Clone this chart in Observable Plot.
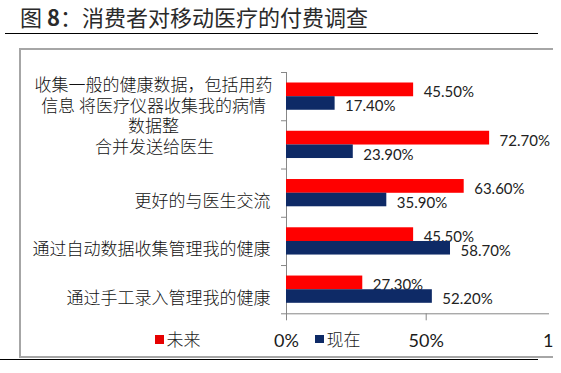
<!DOCTYPE html>
<html>
<head>
<meta charset="utf-8">
<script src="https://cdn.jsdelivr.net/npm/d3@7"></script>
<script src="https://cdn.jsdelivr.net/npm/@observablehq/plot@0.6"></script>
<style>
html, body { margin: 0; padding: 0; background: #fff; }
body { width: 561px; height: 373px; position: relative; overflow: hidden; font-family: "Noto Sans CJK SC", sans-serif; }
#title { position: absolute; left: 20px; top: 0; line-height: 33px; font-size: 22px; color: #2a2a2a; white-space: nowrap; }
#title b { font-weight: bold; }
#rule1 { position: absolute; left: 5px; top: 32.5px; width: 533px; height: 1.5px; background: #000; }
#clip { position: absolute; left: 0; top: 0; width: 553px; height: 373px; overflow: hidden; }
#box { position: absolute; left: 19px; top: 47.5px; width: 600px; height: 306px; border: 2px solid #a6a6a6; }
#rule2 { position: absolute; left: 0; top: 358.5px; width: 538px; height: 1.5px; background: #000; }
#chart { position: absolute; left: 0; top: 0; }
.sw { position: absolute; width: 8.5px; height: 8.5px; }
.lt { position: absolute; font-size: 17px; line-height: 20px; color: #1a1a1a; white-space: nowrap; }
</style>
</head>
<body>
<div id="title">图 <b>8</b>：消费者对移动医疗的付费调查</div>
<div id="rule1"></div>
<div id="clip">
  <div id="box"></div>
  <div id="chart"></div>
  <div id="legend"></div>
</div>
<div id="rule2"></div>
<script>
// ---- data ----
const categories = [
  "收集一般的健康数据，包括用药\n信息 将医疗仪器收集我的病情\n数据整",
  "合并发送给医生",
  "更好的与医生交流",
  "通过自动数据收集管理我的健康",
  "通过手工录入管理我的健康"
];
const future = [45.5, 72.7, 63.6, 45.5, 27.3];   // 未来
const current = [17.4, 23.9, 35.9, 58.7, 52.2];  // 现在
const seriesNames = ["未来", "现在"];
const seriesColors = ["#ff0000", "#0e2a66"];
const xTicks = [0, 50, 100];

const rowsF = categories.map((c, i) => ({category: c, value: future[i]}));
const rowsC = categories.map((c, i) => ({category: c, value: current[i]}));

const axisGray = "#878787";
const cjk = "Noto Sans CJK SC";
const fmt = d => d.toFixed(2) + "%";

const chart = Plot.plot({
  width: 553,
  height: 358,
  marginLeft: 286,
  marginRight: 5,
  marginTop: 72,
  marginBottom: 44.7,
  style: {background: "transparent", overflow: "hidden", color: "#1a1a1a"},
  x: {domain: [0, 100], range: [286, 565.4]},
  y: {domain: categories, padding: 0, round: false},
  marks: [
    Plot.frame({anchor: "left", stroke: axisGray}),
    Plot.frame({anchor: "bottom", stroke: axisGray}),
    Plot.axisY({ticks: categories, tickSize: 5, tickFormat: () => "", dy: -24.13, stroke: axisGray, label: null}),
    Plot.axisY({ticks: [categories[categories.length - 1]], tickSize: 5, tickFormat: () => "", dy: 24.13, stroke: axisGray, label: null}),
    Plot.barX(rowsF, {x: "value", y: "category", fill: seriesColors[0], insetTop: 10.5, insetBottom: 24}),
    Plot.text(rowsF, {x: "value", y: "category", text: d => fmt(d.value), textAnchor: "start", dx: 10, dy: -4,
      fontFamily: "Lato", fontSize: 15, fill: "#222"}),
    Plot.barX(rowsC, {x: "value", y: "category", fill: seriesColors[1], insetTop: 24.2, insetBottom: 10.5}),
    Plot.text(rowsC, {x: "value", y: "category", text: d => fmt(d.value), textAnchor: "start", dx: 10, dy: 10,
      fontFamily: "Lato", fontSize: 15, fill: "#222"}),
    Plot.axisX({ticks: xTicks, tickFormat: d => d + "%", tickSize: 7, tickPadding: 13, fontSize: 18,
      fontFamily: "Lato", stroke: axisGray, fill: "#1a1a1a", label: null}),
    Plot.text([categories[0]], {y: d => d, text: d => d, frameAnchor: "left", textAnchor: "middle",
      dx: -133, dy: 8.5, lineHeight: 1.2, fontFamily: cjk, fontSize: 17, fontWeight: 300, fill: "#111"}),
    Plot.text([categories[1]], {y: d => d, text: d => d, frameAnchor: "left", textAnchor: "middle",
      dx: -132, dy: 3, fontFamily: cjk, fontSize: 17, fontWeight: 300, fill: "#111"}),
    Plot.text(categories.slice(2), {y: d => d, text: d => d, frameAnchor: "left", textAnchor: "end",
      dx: -16, dy: 8.5, fontFamily: cjk, fontSize: 17, fontWeight: 300, fill: "#111"})
  ]
});
document.getElementById("chart").appendChild(chart);

// legend
const legendPos = [{sx: 155, sy: 335, tx: 166.5}, {sx: 315, sy: 334.5, tx: 326.5}];
const legend = document.getElementById("legend");
seriesNames.forEach((name, i) => {
  const sw = document.createElement("div");
  sw.className = "sw";
  sw.style.left = legendPos[i].sx + "px";
  sw.style.top = legendPos[i].sy + "px";
  sw.style.background = i === 0 ? "#e60000" : seriesColors[1];
  legend.appendChild(sw);
  const t = document.createElement("div");
  t.className = "lt";
  t.style.left = legendPos[i].tx + "px";
  t.style.top = "329px";
  t.style.fontWeight = "300";
  t.textContent = name;
  legend.appendChild(t);
});
</script>
</body>
</html>
